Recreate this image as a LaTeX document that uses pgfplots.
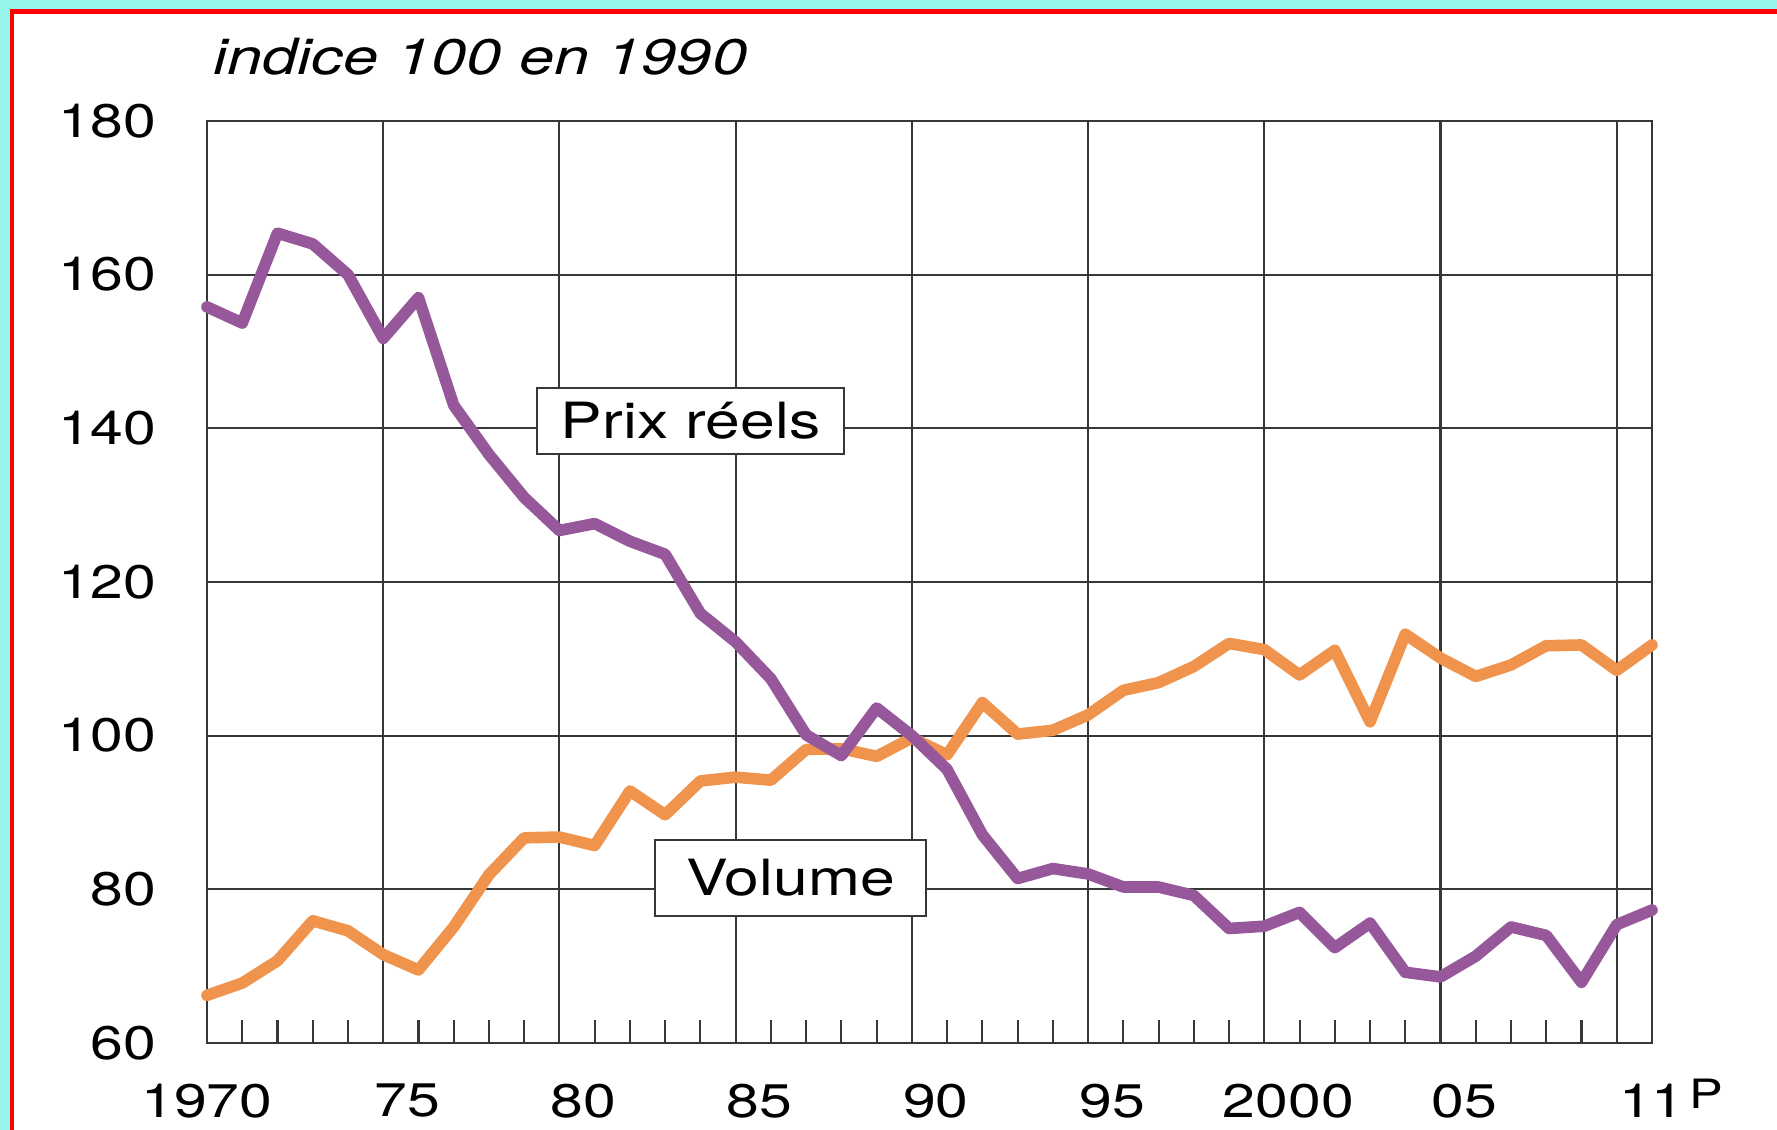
\documentclass[border=0pt]{standalone}
\usepackage{fontspec}
\setmainfont{TeX Gyre Heros}[FakeStretch=1.25]
\newfontfamily\titlefont{TeX Gyre Heros}[FakeStretch=1.265]
\usepackage{pgfplots}
\pgfplotsset{compat=1.18}
\definecolor{prix}{RGB}{150,88,155}
\definecolor{vol}{RGB}{240,147,76}
\definecolor{grd}{RGB}{55,55,55}
\definecolor{cy}{RGB}{150,245,232}
\newcommand{\lblfont}{\fontsize{13.4}{14}\selectfont}
\newcommand{\boxfont}{\fontsize{14.2}{15}\selectfont}
\newcommand{\sh}[1]{\hspace*{4.8mm}#1}

\pgfplotstableread{
year val
1970 66.2
1971 67.8
1972 70.7
1973 75.9
1974 74.6
1975 71.5
1976 69.5
1977 75.1
1978 81.9
1979 86.7
1980 86.8
1981 85.7
1982 92.8
1983 89.7
1984 94.1
1985 94.6
1986 94.2
1987 98.2
1988 98.3
1989 97.3
1990 99.7
1991 97.5
1992 104.3
1993 100.2
1994 100.7
1995 102.7
1996 105.9
1997 106.9
1998 109.0
1999 112.0
2000 111.2
2001 107.9
2002 111.1
2003 101.8
2004 113.2
2005 110.1
2006 107.7
2007 109.2
2008 111.7
2009 111.8
2010 108.5
2011 111.8
}\volume

\pgfplotstableread{
year val
1970 155.8
1971 153.7
1972 165.4
1973 164.0
1974 160.0
1975 151.7
1976 157.0
1977 143.0
1978 136.6
1979 131.0
1980 126.7
1981 127.6
1982 125.3
1983 123.6
1984 115.9
1985 112.2
1986 107.4
1987 100.1
1988 97.4
1989 103.6
1990 100.0
1991 95.6
1992 87.1
1993 81.4
1994 82.7
1995 82.0
1996 80.3
1997 80.3
1998 79.2
1999 74.9
2000 75.2
2001 77.0
2002 72.4
2003 75.6
2004 69.2
2005 68.6
2006 71.3
2007 75.1
2008 74.0
2009 67.9
2010 75.4
2011 77.3
}\prixreels

\begin{document}
\begin{tikzpicture}
\useasboundingbox (0,0) rectangle (177.7mm,113mm);
\fill[white] (0,0) rectangle (177.7mm,113mm);
\fill[cy] (0,0) rectangle (1mm,113mm);
\fill[cy] (0,112.1mm) rectangle (177.7mm,113mm);
\fill[red] (1mm,0) rectangle (1.4mm,112.1mm);
\fill[red] (1mm,111.6mm) rectangle (177.7mm,112.1mm);
\node[anchor=base west, inner sep=0pt, font=\titlefont\itshape\fontsize{14.2}{15}\selectfont] at (21.3mm,105.5mm) {indice 100 en 1990};
\begin{axis}[
  at={(20.7mm,8.7mm)}, anchor=south west,
  scale only axis, width=144.5mm, height=92.2mm,
  xmin=1970, xmax=2011, ymin=60, ymax=180,
  clip=false,
  axis line style={grd, line width=0.6pt},
  xtick={1970,1975,1980,1985,1990,1995,2000,2005,2011},
  xticklabels={1970,\sh{75},\sh{80},\sh{85},\sh{90},\sh{95},\sh{2000},\sh{05},{11\rlap{\hspace{0.5mm}\smash{\raisebox{0.9mm}{\fontsize{11.5}{12}\selectfont P}}}}},
  extra x ticks={2010}, extra x tick labels={},
  extra x tick style={grid=major},
  minor xtick={1971,1972,1973,1974,1976,1977,1978,1979,1981,1982,1983,1984,1986,1987,1988,1989,1991,1992,1993,1994,1996,1997,1998,1999,2001,2002,2003,2004,2006,2007,2008,2009},
  ytick={60,80,100,120,140,160,180},
  yticklabels={60,80,100,120,140,160,180},
  xmajorgrids, ymajorgrids,
  major grid style={grd, line width=0.6pt},
  tick style={grd, line width=0.6pt},
  major tick length=0pt, minor tick length=2.3mm,
  tick align=inside, tick pos=left,
  every tick label/.append style={font=\lblfont, inner sep=0pt},
  xticklabel style={yshift=-4.0mm},
  yticklabel style={xshift=-5mm},
]
\addplot[vol, line width=3.3pt, line join=round, line cap=round] table[x=year,y=val] {\volume};
\addplot[prix, line width=3.3pt, line join=round, line cap=round] table[x=year,y=val] {\prixreels};
\node[draw=grd, line width=0.6pt, fill=white, minimum width=30.7mm, minimum height=6.6mm, inner sep=0pt, font=\boxfont] at (axis cs:1983.72,140.95) {Prix réels};
\node[draw=grd, line width=0.6pt, fill=white, minimum width=27.1mm, minimum height=7.6mm, inner sep=0pt, font=\boxfont] at (axis cs:1986.56,81.5) {Volume};
\end{axis}
\end{tikzpicture}
\end{document}
